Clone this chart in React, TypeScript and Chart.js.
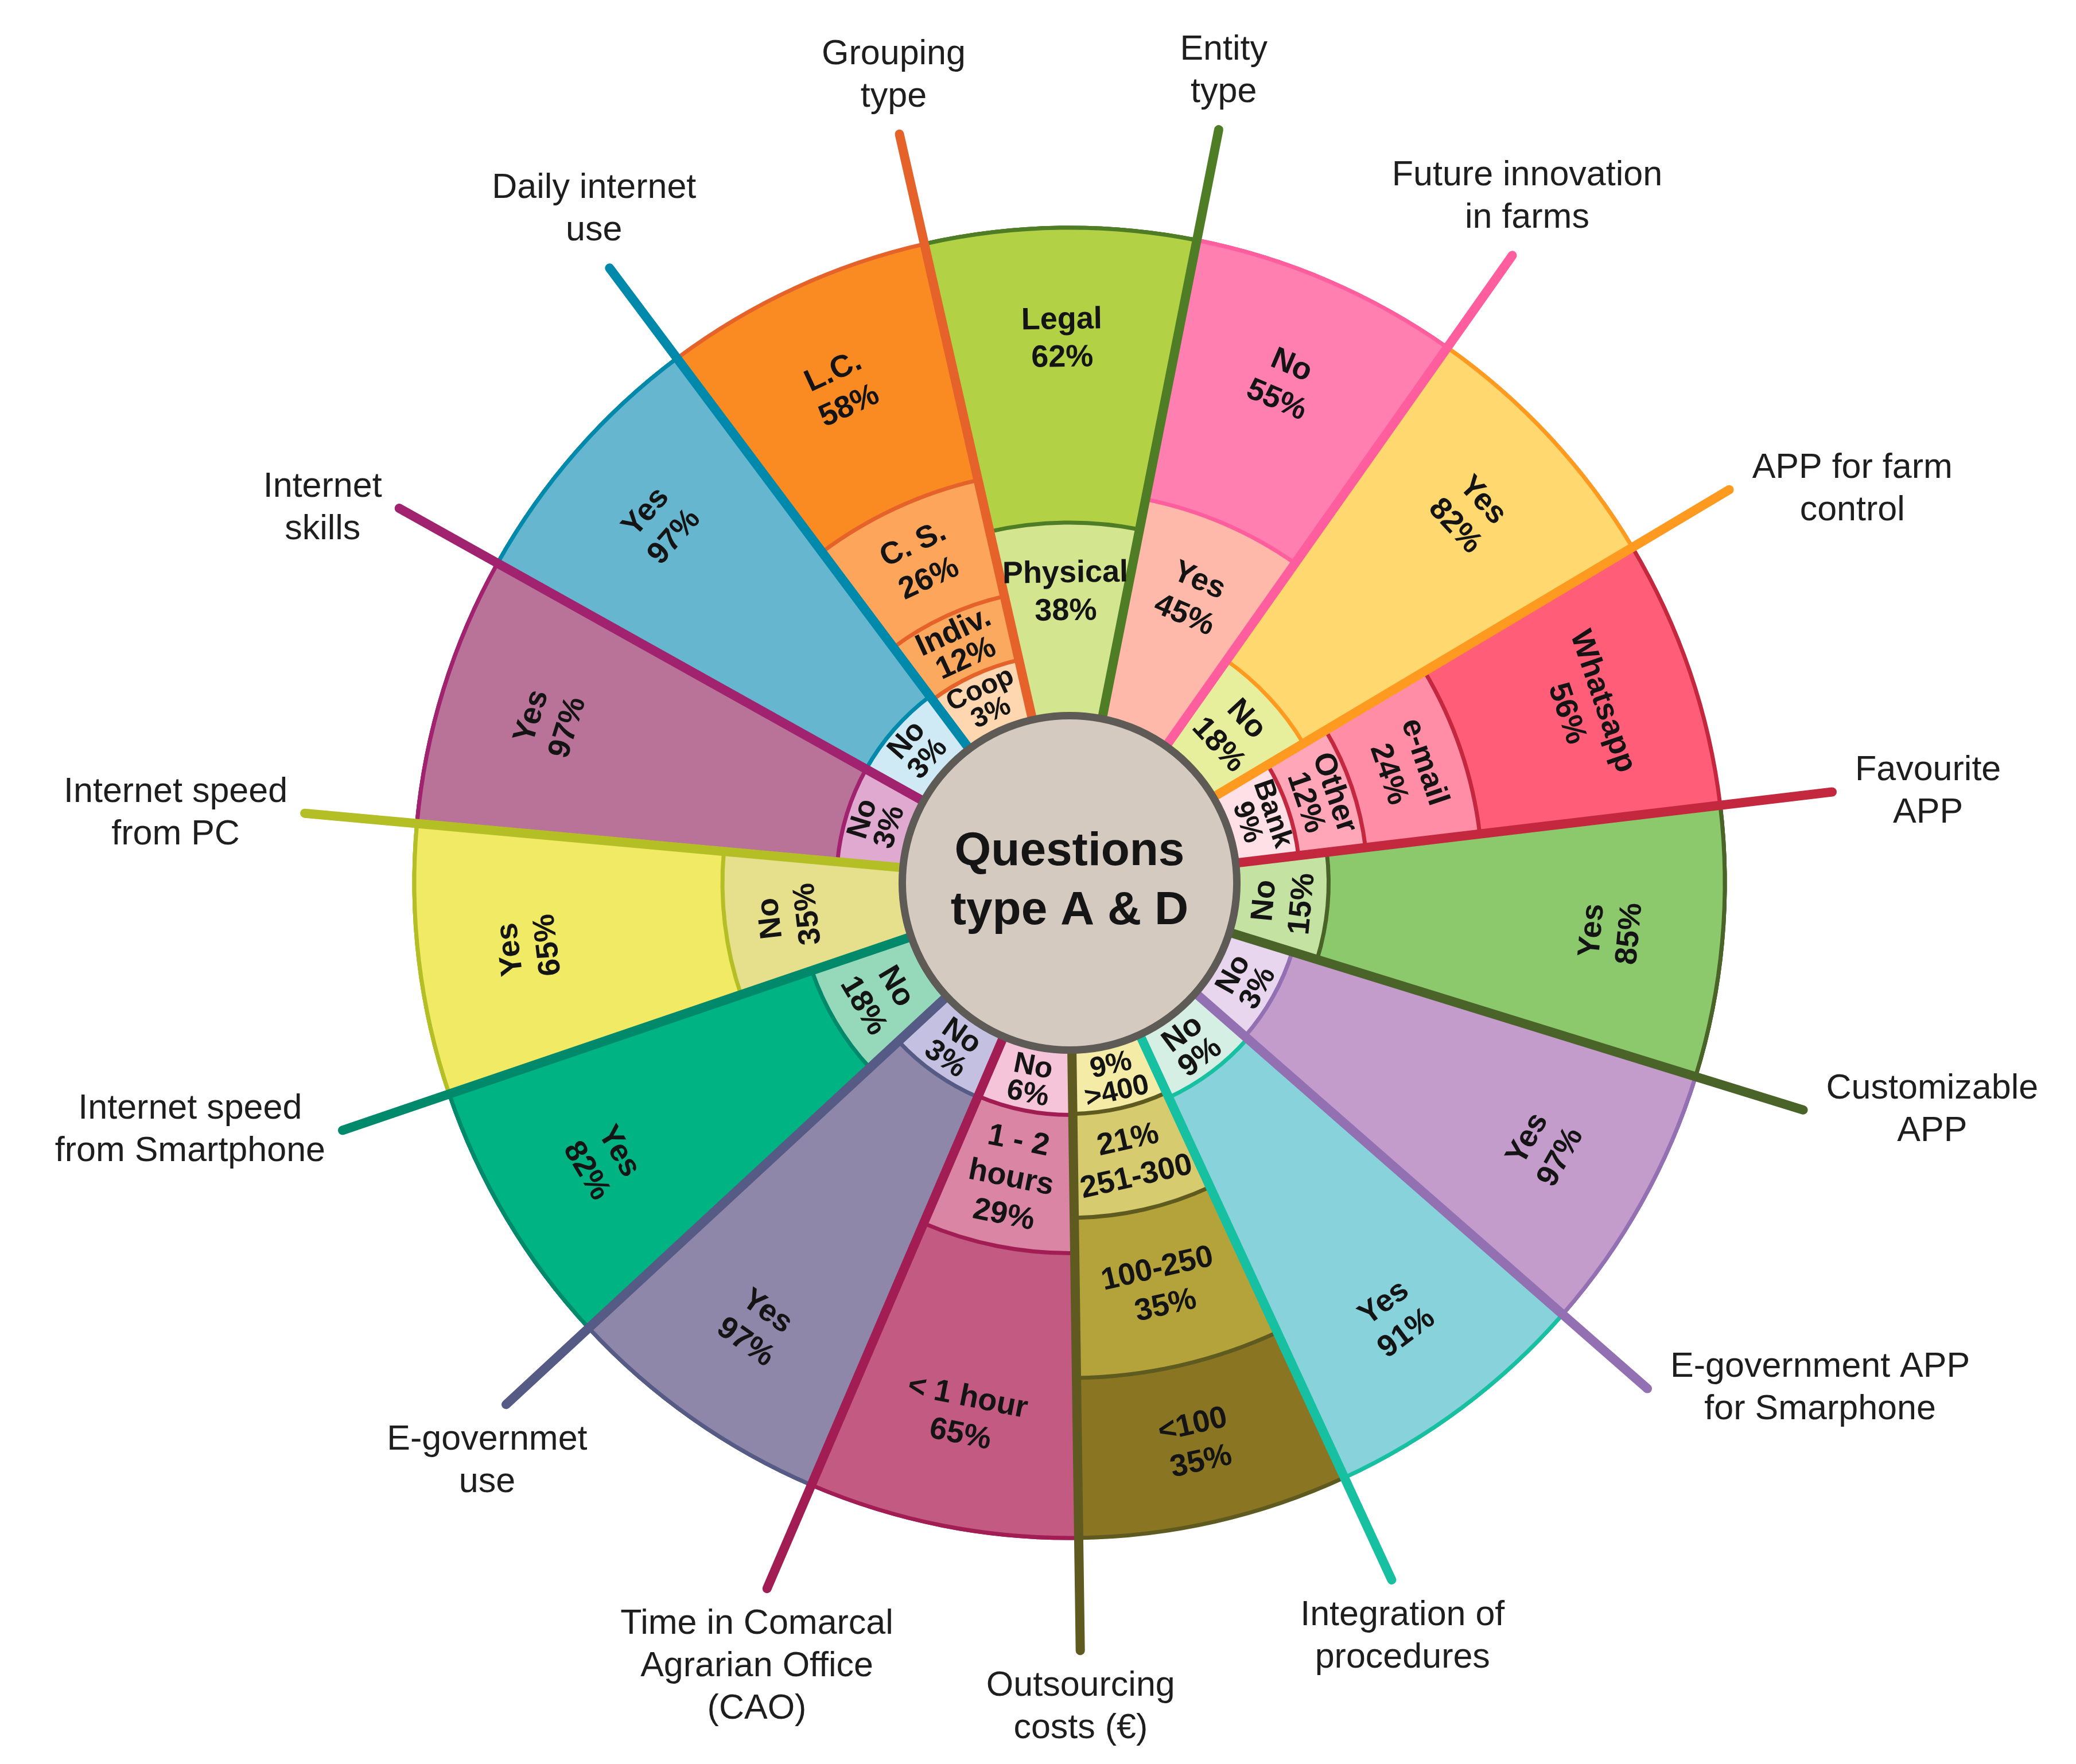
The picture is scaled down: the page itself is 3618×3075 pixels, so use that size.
import React, { useEffect, useRef } from "react";
import { Chart, registerables } from "chart.js";

Chart.register(...registerables);

// ---------- DATA (clockwise, starting with the sector at the top) ----------
const questions = [
  "Entity\ntype",
  "Future innovation\nin farms",
  "APP for farm\ncontrol",
  "Favourite\nAPP",
  "Customizable\nAPP",
  "E-government APP\nfor Smarphone",
  "Integration of\nprocedures",
  "Outsourcing\ncosts (€)",
  "Time in Comarcal\nAgrarian Office\n(CAO)",
  "E-governmet\nuse",
  "Internet speed\nfrom Smartphone",
  "Internet speed\nfrom PC",
  "Internet\nskills",
  "Daily internet\nuse",
  "Grouping\ntype",
];

// innermost ring segment of every question
const layer1Labels = ["Physical\n{v}%", "Yes\n{v}%", "No\n{v}%", "Bank\n{v}%", "No\n{v}%", "No\n{v}%", "No\n{v}%", "{v}%\n>400", "No\n{v}%", "No\n{v}%", "No\n{v}%", "No\n{v}%", "No\n{v}%", "No\n{v}%", "Coop\n{v}%"];
const layer1Values = [38, 45, 18, 9, 15, 3, 9, 9, 6, 3, 18, 35, 3, 3, 3];
const layer1Colors = ["#D3E68F", "#FFB9AA", "#E8EF9C", "#FFE0E6", "#C4E3A3", "#E8D6EE", "#D6EFE4", "#F3EBA6", "#F6C4D8", "#C4C0E2", "#95D8BA", "#E6E08C", "#E0A9D0", "#CFEAF4", "#FED7B0"];

// second segment
const layer2Labels = ["Legal\n{v}%", "No\n{v}%", "Yes\n{v}%", "Other\n{v}%", "Yes\n{v}%", "Yes\n{v}%", "Yes\n{v}%", "{v}%\n251-300", "1 - 2\nhours\n{v}%", "Yes\n{v}%", "Yes\n{v}%", "Yes\n{v}%", "Yes\n{v}%", "Yes\n{v}%", "Indiv.\n{v}%"];
const layer2Values = [62, 55, 82, 12, 85, 97, 91, 21, 29, 97, 82, 65, 97, 97, 12];
const layer2Colors = ["#B3D145", "#FF80B0", "#FFD970", "#FFA6B9", "#8CC96C", "#C39CCB", "#88D3DB", "#D6CB6E", "#D985A3", "#8E87A9", "#00B383", "#F0EA65", "#B97399", "#67B6CF", "#FBA95E"];

// third segment
const layer3Labels = [null, null, null, "e-mail\n{v}%", null, null, null, "100-250\n{v}%", "< 1 hour\n{v}%", null, null, null, null, null, "C. S.\n{v}%"];
const layer3Values = [null, null, null, 24, null, null, null, 35, 65, null, null, null, null, null, 26];
const layer3Colors = [null, null, null, "#FF8DA6", null, null, null, "#B4A33A", "#C35A81", null, null, null, null, null, "#FCA55B"];

// fourth (outermost) segment
const layer4Labels = [null, null, null, "Whatsapp\n{v}%", null, null, null, "<100\n{v}%", null, null, null, null, null, null, "L.C.\n{v}%"];
const layer4Values = [null, null, null, 56, null, null, null, 35, null, null, null, null, null, null, 58];
const layer4Colors = [null, null, null, "#FF5D78", null, null, null, "#8A7522", null, null, null, null, null, null, "#F98B22"];

// separator line / border colour of every question
const lineColors = ["#4F7D25", "#FF5E9E", "#FF9A20", "#C3283E", "#4A6328", "#9370B2", "#16C0A0", "#5E5A20", "#A31D55", "#565B86", "#00896A", "#B4BE25", "#A1226E", "#0089AB", "#E5622A"];

const centerTitle = ["Questions", "type A & D"];

const layerLabels = [layer1Labels, layer2Labels, layer3Labels, layer4Labels];
const layerValues = [layer1Values, layer2Values, layer3Values, layer4Values];
const layerColors = [layer1Colors, layer2Colors, layer3Colors, layer4Colors];

// ---------- STYLE / LAYOUT ----------
const W = 3618;
const H = 3075;
const START_ANGLE = -12.8;
const HOLE = 0.261; // centre circle radius / outer radius
const R_MIN = (-100 * HOLE) / (1 - HOLE);
const LINE_EXT = 1.172;
const FONT = "'Liberation Sans', Arial, Helvetica, sans-serif";

// small answers get a minimum visible thickness so their labels fit
const visualWeight = (v: number) => Math.max(v, 10) + 5;

function buildDatasets() {
  const n = questions.length;
  const L = layerValues.length;
  const cum: number[][] = [];
  const bg: string[][] = [];
  for (let k = 0; k < L; k++) {
    cum.push(new Array(n).fill(100));
    bg.push(new Array(n).fill("#ffffff"));
  }
  for (let i = 0; i < n; i++) {
    const vals: number[] = [];
    const cols: string[] = [];
    for (let k = 0; k < L; k++) {
      const v = layerValues[k][i];
      if (v == null) break;
      vals.push(v as number);
      cols.push(layerColors[k][i] as string);
    }
    const w = vals.map(visualWeight);
    const tot = w.reduce((a, b) => a + b, 0);
    let acc = 0;
    for (let k = 0; k < L; k++) {
      if (k < vals.length) {
        acc += w[k];
        cum[k][i] = (acc / tot) * 100;
        bg[k][i] = cols[k];
      } else {
        cum[k][i] = 100;
        bg[k][i] = cols[cols.length - 1];
      }
    }
  }
  return cum.map((data, k) => ({
    label: `Segment ${k + 1}`,
    data,
    backgroundColor: bg[k],
    borderColor: lineColors,
    borderWidth: 7,
    borderJoinStyle: "round",
  }));
}

function normDeg(d: number) {
  let x = d % 360;
  if (x < 0) x += 360;
  return x;
}

const overlayPlugin = {
  id: "wheelOverlay",
  afterDatasetsDraw(chart: any) {
    const ctx: CanvasRenderingContext2D = chart.ctx;
    const scale = chart.scales.r;
    const cx = scale.xCenter;
    const cy = scale.yCenter;
    const R = scale.drawingArea;
    const r0 = scale.getDistanceFromCenterForValue(0);
    const n = questions.length;
    const metas = layerValues.map((_, k) => chart.getDatasetMeta(k));

    ctx.save();

    // separator lines
    ctx.lineCap = "round";
    for (let i = 0; i < n; i++) {
      const a = metas[0].data[i].endAngle;
      ctx.strokeStyle = lineColors[i];
      ctx.lineWidth = 16;
      ctx.beginPath();
      ctx.moveTo(cx + Math.cos(a) * (r0 - 40), cy + Math.sin(a) * (r0 - 40));
      ctx.lineTo(cx + Math.cos(a) * R * LINE_EXT, cy + Math.sin(a) * R * LINE_EXT);
      ctx.stroke();
    }

    // segment labels
    ctx.fillStyle = "#141414";
    ctx.textAlign = "center";
    ctx.textBaseline = "middle";
    for (let i = 0; i < n; i++) {
      let inner = r0;
      let count = 0;
      for (let k = 0; k < layerValues.length; k++) if (layerValues[k][i] != null) count = k + 1;
      for (let k = 0; k < count; k++) {
        const arc = metas[k].data[i];
        const outer = arc.outerRadius;
        const t = outer - inner;
        const a = (arc.startAngle + arc.endAngle) / 2;
        const isOuter = k === count - 1;
        let rl = inner + t * (t > 285 ? 0.63 : 0.5);
        if (isOuter) rl = Math.max(inner + t * 0.5, outer - 0.17 * R);
        const text = (layerLabels[k][i] as string).replace("{v}", String(layerValues[k][i]));
        const lines = text.split("\n");
        const fs = Math.min(54, t * 0.48);
        const lh = Math.min(fs * 1.22, (t * 0.9) / lines.length);
        let deg = normDeg((a * 180) / Math.PI + 90);
        if (deg > 180) deg -= 360;
        if (deg > 90) deg -= 180;
        else if (deg < -100) deg += 180;
        ctx.save();
        ctx.translate(cx + Math.cos(a) * rl, cy + Math.sin(a) * rl);
        ctx.rotate((deg * Math.PI) / 180);
        ctx.font = `bold ${fs.toFixed(1)}px ${FONT}`;
        lines.forEach((ln, j) => ctx.fillText(ln, 0, (j - (lines.length - 1) / 2) * lh));
        ctx.restore();
        inner = outer;
      }
    }

    // centre circle
    const bw = 13;
    ctx.beginPath();
    ctx.arc(cx, cy, r0 - bw / 2, 0, Math.PI * 2);
    ctx.fillStyle = "#D4CAC0";
    ctx.fill();
    ctx.lineWidth = bw;
    ctx.strokeStyle = "#5E5A55";
    ctx.stroke();
    ctx.fillStyle = "#151515";
    ctx.textAlign = "center";
    ctx.textBaseline = "alphabetic";
    ctx.font = `bold 82px ${FONT}`;
    ctx.fillText(centerTitle[0], cx, cy - 31);
    ctx.fillText(centerTitle[1], cx, cy + 72);

    // question labels at the end of each separator
    ctx.font = `61px ${FONT}`;
    ctx.fillStyle = "#1E1E1E";
    ctx.textBaseline = "middle";
    const lh = 74;
    for (let i = 0; i < n; i++) {
      const a = metas[0].data[i].endAngle;
      const px = cx + Math.cos(a) * R * LINE_EXT;
      const py = cy + Math.sin(a) * R * LINE_EXT;
      const th = normDeg((a * 180) / Math.PI + 90);
      const lines = questions[i].split("\n");
      const m = lines.length;
      const bwid = Math.max(...lines.map((l) => ctx.measureText(l).width));
      const sinT = Math.sin((th * Math.PI) / 180);
      let xc: number;
      let yTop: number;
      if (th >= 310 || th < 50) {
        xc = px + 45 * sinT;
        yTop = py - 28 - m * lh;
      } else if (th < 135) {
        xc = px + 40 + bwid / 2;
        yTop = py - (m * lh) / 2;
      } else if (th < 235) {
        xc = px + 45 * sinT;
        yTop = py + 25;
      } else {
        xc = px - 30 - bwid / 2;
        yTop = py - (m * lh) / 2;
      }
      lines.forEach((ln, j) => ctx.fillText(ln, xc, yTop + (j + 0.5) * lh));
    }

    ctx.restore();
  },
};

export default function App() {
  const ref = useRef<HTMLCanvasElement | null>(null);

  useEffect(() => {
    if (!ref.current) return;
    const R = 1142;
    const cx = 1864;
    const cy = 1539;
    const chart = new Chart(ref.current, {
      type: "polarArea",
      data: {
        labels: questions.map((q) => q.replace(/\n/g, " ")),
        datasets: buildDatasets() as any,
      },
      options: {
        responsive: false,
        animation: false,
        devicePixelRatio: 1,
        events: [],
        layout: {
          padding: { left: cx - R, right: W - cx - R, top: cy - R, bottom: H - cy - R },
        },
        plugins: {
          legend: { display: false },
          tooltip: { enabled: false },
        },
        scales: {
          r: {
            display: false,
            min: R_MIN,
            max: 100,
            startAngle: START_ANGLE,
            ticks: { display: false },
            grid: { display: false },
            pointLabels: { display: false },
          },
        },
      } as any,
      plugins: [overlayPlugin as any],
    });
    return () => chart.destroy();
  }, []);

  return (
    <div style={{ position: "fixed", left: 0, top: 0, width: W, height: H, background: "#ffffff" }}>
      <canvas ref={ref} width={W} height={H} style={{ width: W, height: H, display: "block" }} />
    </div>
  );
}
